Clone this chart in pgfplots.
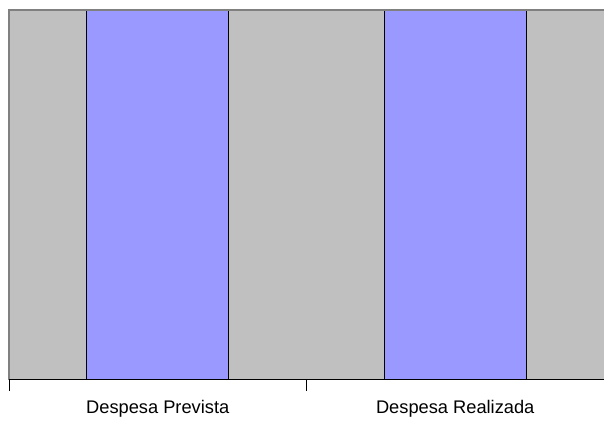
\documentclass[border=0pt]{standalone}
\usepackage{fontspec}
\setmainfont{Liberation Sans}
\usepackage{pgfplots}
\pgfplotsset{compat=1.18}
\definecolor{plotgray}{RGB}{192,192,192}
\definecolor{bordergray}{RGB}{128,128,128}
\definecolor{barblue}{RGB}{153,153,255}
\begin{document}
\begin{tikzpicture}
\useasboundingbox (0,0) rectangle (453pt,315.75pt);
\begin{axis}[
    at={(6.75pt,308.25pt)}, anchor=north west,
    scale only axis,
    width=446.25pt, height=277.5pt,
    xmin=0, xmax=2, ymin=0, ymax=1,
    axis line style={draw=none},
    axis background/.style={fill=plotgray},
    xtick={0,1,2}, xticklabels={},
    xtick pos=bottom,
    tick align=outside,
    major tick length=8.25pt,
    tick style={black, line width=0.75pt},
    ytick=\empty,
    extra x ticks={0.5,1.5},
    extra x tick labels={Despesa Prevista, Despesa Realizada},
    extra x tick style={major tick length=0pt,
        tick label style={font=\fontsize{13.7}{16}\selectfont, yshift=-12pt}},
    clip=false,
]
\addplot[ybar, bar width=0.478, fill=barblue, draw=black, line width=0.75pt]
    coordinates {(0.5,1) (1.5,1)};
\draw[bordergray, line width=1.5pt] (axis cs:0,0) -- (axis cs:0,1) -- (axis cs:2,1);
\draw[black, line width=0.75pt] (axis cs:0,0) -- (axis cs:2,0);
\end{axis}
\end{tikzpicture}
\end{document}
